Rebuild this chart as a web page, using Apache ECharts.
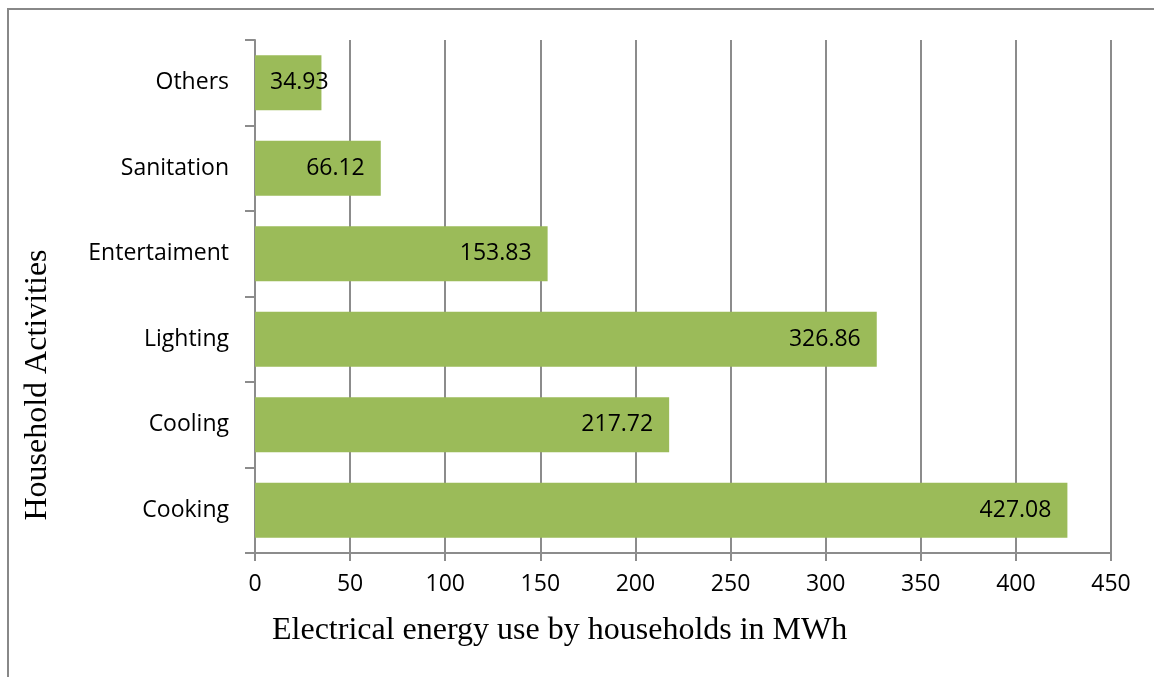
<!DOCTYPE html>
<html>
<head>
<meta charset="utf-8">
<script src="https://cdn.jsdelivr.net/npm/echarts@6/dist/echarts.min.js"></script>
<style>
  html, body { margin: 0; padding: 0; background: #fff; }
  #frame { position: absolute; left: 7px; top: 8px; width: 1147px; height: 669px;
           border-left: 2px solid #888; border-top: 2px solid #888; box-sizing: border-box; }
  #chart { position: absolute; left: 0; top: 0; width: 1154px; height: 677px; }
</style>
</head>
<body>
<div id="frame"></div>
<div id="chart"></div>
<script>
// data, bottom to top
const activities = ['Cooking', 'Cooling', 'Lighting', 'Entertaiment', 'Sanitation', 'Others'];
const energyMWh = [427.08, 217.72, 326.86, 153.83, 66.12, 34.93];
const xTicks = [0, 50, 100, 150, 200, 250, 300, 350, 400, 450];

const xAxisTitle = 'Electrical energy use by households in MWh';
const yAxisTitle = 'Household Activities';

var chartDom = document.getElementById('chart');
var myChart = echarts.init(chartDom);

const gray = '#8c8c8c';
const labelFont = 'Open Sans';
const labelSize = 23;

const barData = energyMWh.map((v, i) => {
    const item = { value: v };
    // small bar: label can't sit at the end, excel pushes it to the start
    if (v < 50) {
        item.label = { position: 'insideLeft', distance: 15 };
    }
    return item;
});

const option = {
    animation: false,
    title: {
        text: xAxisTitle,
        left: 267,
        top: 610,
        textStyle: { fontFamily: 'Liberation Serif', fontSize: 32, fontWeight: 'normal', color: '#000' }
    },
    graphic: [{
        type: 'text',
        x: 38,
        y: 385,
        rotation: Math.PI / 2,
        style: {
            text: yAxisTitle,
            font: '32px "Liberation Serif"',
            fill: '#000',
            textAlign: 'center',
            textVerticalAlign: 'middle'
        }
    }],
    grid: {
        left: 255,
        right: 43,
        top: 40,
        bottom: 124,
        containLabel: false
    },
    xAxis: {
        type: 'value',
        min: xTicks[0],
        max: xTicks[xTicks.length - 1],
        interval: 50,
        axisLine: { show: true, lineStyle: { color: gray, width: 2 } },
        axisTick: { show: true, length: 8, lineStyle: { color: gray, width: 2 } },
        axisLabel: { margin: 20, fontFamily: labelFont, fontSize: labelSize, color: '#000' },
        splitLine: { show: true, lineStyle: { color: gray, width: 2 } }
    },
    yAxis: {
        type: 'category',
        data: activities,
        axisLine: { show: true, lineStyle: { color: gray, width: 2 } },
        axisTick: { show: true, length: 10, lineStyle: { color: gray, width: 2 } },
        axisLabel: { margin: 26, fontFamily: labelFont, fontSize: labelSize, color: '#000' },
        splitLine: { show: false }
    },
    series: [
        {
            name: 'energy',
            type: 'bar',
            barWidth: 55,
            itemStyle: { color: '#9bbb59' },
            label: {
                show: true,
                position: 'insideRight',
                distance: 16,
                fontFamily: labelFont,
                fontSize: labelSize,
                color: '#000'
            },
            data: barData
        }
    ]
};
option && myChart.setOption(option);
window.onresize = () => {
    myChart.resize();
};
</script>
</body>
</html>
